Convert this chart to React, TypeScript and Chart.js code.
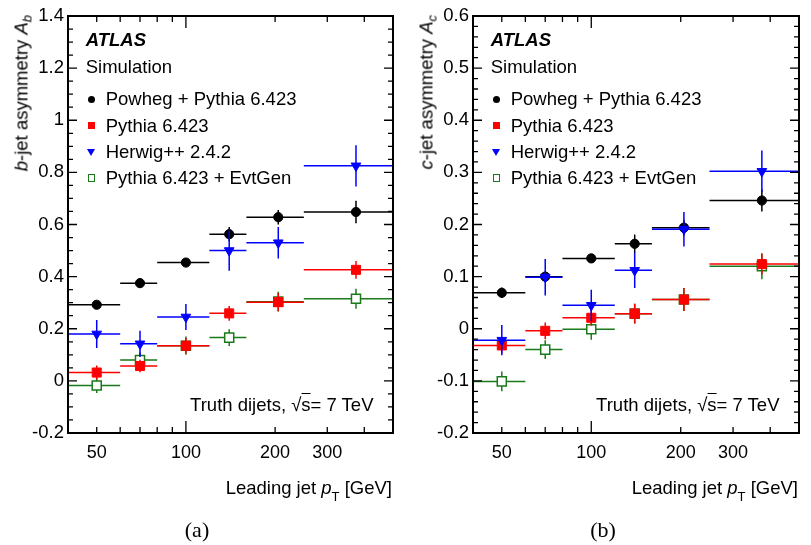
import React, { useEffect, useRef } from "react";
import { Chart, registerables } from "chart.js";
Chart.register(...registerables);

// ---- data ----
const binLow = [40, 60, 80, 120, 160, 250];
const binHigh = [60, 80, 120, 160, 250, 500];
const binCenter = [50, 70, 100, 140, 205, 375];

const seriesNames = ["Powheg + Pythia 6.423", "Pythia 6.423", "Herwig++ 2.4.2", "Pythia 6.423 + EvtGen"];
const seriesColors = ["#000000", "#ff0000", "#0000ff", "#1a7a1a"];
// drawing order (higher = drawn earlier / behind)
const seriesOrder = [4, 2, 1, 3];

// (a) b-jet asymmetry
const bPowheg = [0.292, 0.375, 0.454, 0.563, 0.628, 0.648];
const bPowhegErr = [0.012, 0.018, 0.012, 0.027, 0.028, 0.043];
const bPythia = [0.032, 0.057, 0.135, 0.259, 0.302, 0.426];
const bPythiaErr = [0.027, 0.024, 0.03, 0.028, 0.035, 0.034];
const bHerwig = [0.18, 0.142, 0.245, 0.5, 0.53, 0.825];
const bHerwigErr = [0.054, 0.05, 0.05, 0.077, 0.06, 0.079];
const bEvtGen = [-0.018, 0.08, 0.135, 0.166, 0.304, 0.315];
const bEvtGenErr = [0.029, 0.03, 0.035, 0.032, 0.038, 0.038];

// (b) c-jet asymmetry
const cPowheg = [0.069, 0.1, 0.135, 0.163, 0.194, 0.246];
const cPowhegErr = [0.01, 0.01, 0.008, 0.018, 0.015, 0.021];
const cPythia = [-0.032, -0.004, 0.021, 0.029, 0.056, 0.124];
const cPythiaErr = [0.015, 0.016, 0.015, 0.019, 0.022, 0.02];
const cHerwig = [-0.022, 0.099, 0.045, 0.112, 0.191, 0.302];
const cHerwigErr = [0.029, 0.035, 0.03, 0.034, 0.033, 0.04];
const cEvtGen = [-0.101, -0.04, -0.001, 0.029, 0.056, 0.12];
const cEvtGenErr = [0.019, 0.018, 0.02, 0.019, 0.022, 0.025];

const xTickLabels = [50, 100, 200, 300];
const xMinorTicks = [50, 60, 70, 80, 90, 200, 300, 400];
const xMajorTicks = [100];
const xMin = 40;
const xMax = 500;

const SANS = "'Liberation Sans', Arial, Helvetica, sans-serif";
const SERIF = "'Liberation Serif', 'Times New Roman', serif";

const framePlugin = {
  id: "rootFrame",
  beforeDatasetDraw(chart: any, args: any) {
    const ds = chart.data.datasets[args.index];
    const { ctx, chartArea } = chart;
    const xs = chart.scales.x;
    const ys = chart.scales.y;
    ctx.save();
    ctx.beginPath();
    ctx.rect(chartArea.left, chartArea.top, chartArea.right - chartArea.left, chartArea.bottom - chartArea.top);
    ctx.clip();
    ctx.strokeStyle = ds.borderColor;
    ctx.lineWidth = 1.5;
    ds.data.forEach((p: any, j: number) => {
      const x = xs.getPixelForValue(p.x);
      const y = ys.getPixelForValue(p.y);
      ctx.beginPath();
      ctx.moveTo(xs.getPixelForValue(ds.xLow[j]), y);
      ctx.lineTo(xs.getPixelForValue(ds.xHigh[j]), y);
      ctx.moveTo(x, ys.getPixelForValue(p.y - ds.yErr[j]));
      ctx.lineTo(x, ys.getPixelForValue(p.y + ds.yErr[j]));
      ctx.stroke();
    });
    ctx.restore();
  },
  afterDraw(chart: any) {
    const { ctx, chartArea } = chart;
    const { left, right, top, bottom } = chartArea;
    const xs = chart.scales.x;
    const ys = chart.scales.y;
    const o = chart.options.plugins.rootFrame;
    ctx.save();
    ctx.strokeStyle = "#000";
    ctx.lineWidth = 1.3;
    ctx.beginPath();
    const n = Math.round((o.yMax - o.yMin) / o.yMinor);
    for (let k = 0; k <= n; k++) {
      const v = o.yMin + k * o.yMinor;
      const py = ys.getPixelForValue(v);
      const len = k % o.yPerMajor === 0 ? 9 : 5;
      ctx.moveTo(left, py);
      ctx.lineTo(left + len, py);
      ctx.moveTo(right, py);
      ctx.lineTo(right - len, py);
    }
    const xt = (vals: number[], len: number) => {
      vals.forEach((v) => {
        const px = xs.getPixelForValue(v);
        ctx.moveTo(px, bottom);
        ctx.lineTo(px, bottom - len);
        ctx.moveTo(px, top);
        ctx.lineTo(px, top + len);
      });
    };
    xt(xMinorTicks, 6);
    xt(xMajorTicks, 12);
    ctx.stroke();
    ctx.lineWidth = 2;
    ctx.strokeRect(left, top, right - left, bottom - top);
    ctx.restore();
  },
};

function makeDatasets(vals: number[][], errs: number[][]) {
  const styles = [
    { pointStyle: "circle", pointRadius: 4.6, fill: seriesColors[0], rot: 0 },
    { pointStyle: "rect", pointRadius: 6.4, fill: seriesColors[1], rot: 0 },
    { pointStyle: "triangle", pointRadius: 5.6, fill: seriesColors[2], rot: 180 },
    { pointStyle: "rect", pointRadius: 6.4, fill: "#ffffff", rot: 0 },
  ];
  return vals.map((arr, i) => ({
    label: seriesNames[i],
    data: arr.map((v, j) => ({ x: binCenter[j], y: v })),
    xLow: binLow,
    xHigh: binHigh,
    yErr: errs[i],
    order: seriesOrder[i],
    borderColor: seriesColors[i],
    backgroundColor: styles[i].fill,
    pointBackgroundColor: styles[i].fill,
    pointBorderColor: seriesColors[i],
    pointBorderWidth: i === 3 ? 1.5 : 1,
    pointStyle: styles[i].pointStyle,
    pointRadius: styles[i].pointRadius,
    pointRotation: styles[i].rot,
    showLine: false,
  }));
}

function makeConfig(vals: number[][], errs: number[][], yMin: number, yMax: number, yMajor: number, yMinor: number) {
  const nMaj = Math.round((yMax - yMin) / yMajor);
  const yTicks: number[] = [];
  for (let k = 0; k <= nMaj; k++) yTicks.push(Math.round((yMin + k * yMajor) * 1000) / 1000);
  return {
    type: "scatter",
    data: { datasets: makeDatasets(vals, errs) },
    options: {
      animation: false,
      responsive: false,
      events: [],
      layout: { padding: { left: 0, right: 12, top: 16, bottom: 72 } },
      plugins: {
        legend: { display: false },
        tooltip: { enabled: false },
        rootFrame: { yMin, yMax, yMinor, yPerMajor: Math.round(yMajor / yMinor) },
      },
      scales: {
        x: {
          type: "logarithmic",
          min: xMin,
          max: xMax,
          grid: { display: false, drawTicks: false },
          border: { display: false },
          ticks: {
            color: "#000",
            font: { family: SANS, size: 18 },
            padding: 9,
            autoSkip: false,
            maxRotation: 0,
            callback: (v: any) => String(v),
          },
          afterBuildTicks: (s: any) => {
            s.ticks = xTickLabels.map((v) => ({ value: v }));
          },
          afterFit: (s: any) => {
            s.height = 40;
          },
        },
        y: {
          type: "linear",
          min: yMin,
          max: yMax,
          grid: { display: false, drawTicks: false },
          border: { display: false },
          ticks: {
            color: "#000",
            font: { family: SANS, size: 18.5 },
            padding: 4,
            callback: (v: any) => String(Math.round(v * 1000) / 1000),
          },
          afterBuildTicks: (s: any) => {
            s.ticks = yTicks.map((v) => ({ value: v }));
          },
          afterFit: (s: any) => {
            s.width = 68;
          },
        },
      },
    },
    plugins: [framePlugin],
  };
}

const FS = 18.5;
const baseTop = (baseline: number, f: number = FS) => baseline - 0.8465 * f;

function Marker({ i, x, y }: { i: number; x: number; y: number }) {
  const s: React.CSSProperties = { position: "absolute" };
  if (i === 0) {
    Object.assign(s, { left: x - 3.6, top: y - 3.6, width: 7.2, height: 7.2, borderRadius: "50%", background: "#000" });
  } else if (i === 1) {
    Object.assign(s, { left: x - 3.7, top: y - 3.7, width: 7.4, height: 7.4, background: "#ff0000" });
  } else if (i === 2) {
    Object.assign(s, {
      left: x - 4,
      top: y - 3.4,
      width: 0,
      height: 0,
      borderLeft: "4px solid transparent",
      borderRight: "4px solid transparent",
      borderTop: "7px solid #0000ff",
    });
  } else {
    Object.assign(s, { left: x - 3.7, top: y - 3.7, width: 5.4, height: 5.4, border: "1px solid " + seriesColors[3] });
  }
  return <div style={s} />;
}

function Panel({
  offset,
  width,
  vals,
  errs,
  yMin,
  yMax,
  yMajor,
  yMinor,
  flavour,
  tag,
}: {
  offset: number;
  width: number;
  vals: number[][];
  errs: number[][];
  yMin: number;
  yMax: number;
  yMajor: number;
  yMinor: number;
  flavour: string;
  tag: string;
}) {
  const ref = useRef<HTMLCanvasElement>(null);
  useEffect(() => {
    const chart = new Chart(ref.current as HTMLCanvasElement, makeConfig(vals, errs, yMin, yMax, yMajor, yMinor) as any);
    return () => chart.destroy();
  }, []);
  const plotLeft = offset + 68;
  const plotRight = offset + width - 12;
  const txt: React.CSSProperties = { position: "absolute", fontFamily: SANS, fontSize: FS, lineHeight: 1, whiteSpace: "nowrap", color: "#000" };
  const rows = [106, 132.3, 158.5, 184.7];
  return (
    <>
      <canvas ref={ref} width={width} height={545} style={{ position: "absolute", left: offset, top: 0, width, height: 545 }} />
      <div style={{ ...txt, left: plotLeft + 17.7, top: baseTop(46.7), fontWeight: "bold", fontStyle: "italic" }}>ATLAS</div>
      <div style={{ ...txt, left: plotLeft + 17.7, top: baseTop(74) }}>Simulation</div>
      {seriesNames.map((name, i) => (
        <React.Fragment key={name}>
          <Marker i={i} x={plotLeft + 23.4} y={rows[i] - 6.6} />
          <div style={{ ...txt, left: plotLeft + 37.7, top: baseTop(rows[i]) }}>{name}</div>
        </React.Fragment>
      ))}
      <div style={{ ...txt, left: plotRight - 19.5, top: baseTop(411.7), transform: "translateX(-100%)" }}>
        Truth dijets, √<span style={{ borderTop: "1.2px solid #000", paddingTop: 0 }}>s</span>= 7 TeV
      </div>
      <div style={{ ...txt, left: plotRight - 1, top: baseTop(495), transform: "translateX(-100%)" }}>
        Leading jet <i>p</i>
        <sub style={{ fontSize: 13, verticalAlign: -7 }}>T</sub> [GeV]
      </div>
      <div
        style={{
          ...txt,
          left: plotLeft - 45,
          top: 15,
          transformOrigin: "0 0",
          transform: "rotate(-90deg) translate(-100%, -50%)",
        }}
      >
        <i>{flavour}</i>-jet asymmetry <i>A</i>
        <sub style={{ fontSize: 13, verticalAlign: -4 }}>
          <i>{flavour}</i>
        </sub>
      </div>
      <div
        style={{
          position: "absolute",
          fontFamily: SERIF,
          fontSize: 22,
          lineHeight: 1,
          left: offset + (tag === "(a)" ? 197 : 198),
          top: 519,
          transform: "translateX(-50%)",
        }}
      >
        {tag}
      </div>
    </>
  );
}

export default function App() {
  return (
    <div style={{ position: "absolute", left: 0, top: 0, width: 811, height: 545, overflow: "hidden", background: "#fff" }}>
      <Panel
        offset={0}
        width={405}
        vals={[bPowheg, bPythia, bHerwig, bEvtGen]}
        errs={[bPowhegErr, bPythiaErr, bHerwigErr, bEvtGenErr]}
        yMin={-0.2}
        yMax={1.4}
        yMajor={0.2}
        yMinor={0.05}
        flavour="b"
        tag="(a)"
      />
      <Panel
        offset={405}
        width={406}
        vals={[cPowheg, cPythia, cHerwig, cEvtGen]}
        errs={[cPowhegErr, cPythiaErr, cHerwigErr, cEvtGenErr]}
        yMin={-0.2}
        yMax={0.6}
        yMajor={0.1}
        yMinor={0.02}
        flavour="c"
        tag="(b)"
      />
    </div>
  );
}
